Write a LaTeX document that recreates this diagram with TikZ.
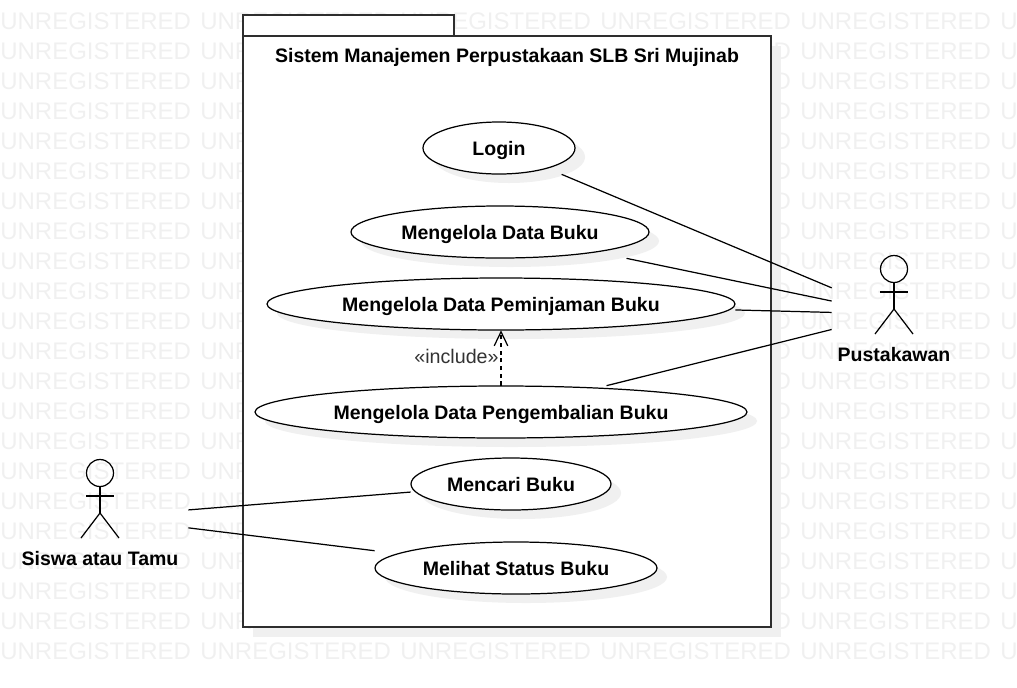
\documentclass[tikz,border=0pt]{standalone}
\usepackage{fontspec}
\setmainfont{Liberation Sans}
\usetikzlibrary{arrows.meta}

\definecolor{wmgray}{HTML}{F0F0F0}
\definecolor{shadowgray}{HTML}{F0F0F0}
\definecolor{framegray}{HTML}{2E2E2E}

\tikzset{
  watermark/.style={anchor=west, inner sep=0pt, text=wmgray, font=\fontsize{13.65}{16}\selectfont},
  label/.style={inner sep=0pt, text height=8pt, text depth=0pt, font=\fontsize{11.1}{13}\selectfont\bfseries},
  line/.style={draw=black, line width=0.7pt},
  usecasebox/.style={label, minimum height=1.04cm},
  actorbox/.style={inner sep=0pt, minimum height=2.44cm}
}

% #1 name, #2 x, #3 y, #4 half width, #5 text
\newcommand{\usecase}[5]{
  \fill[shadowgray] (#2+10,#3+9) ellipse (#4 and 26);
  \draw[line, fill=white] (#2,#3) ellipse (#4 and 26);
  \node[usecasebox, minimum width={2*#4*0.02cm}] (#1) at (#2,#3) {#5};
}

% #1 x of the figure, #2 y of the head
\newcommand{\stickman}[2]{
  \draw[line] (#1,#2) circle (13.5);
  \draw[line] (#1,#2+13.5) -- (#1,#2+40);
  \draw[line] (#1-14,#2+23) -- (#1+14,#2+23);
  \draw[line] (#1-19,#2+65) -- (#1,#2+40) -- (#1+19,#2+65);
}

\begin{document}
\begin{tikzpicture}[x=0.02cm, y=-0.02cm]

\useasboundingbox (0,0) rectangle (1017,687);

\begin{scope}
\clip (0,0) rectangle (1017,687);
\foreach \row in {0,...,21} {
  \foreach \col in {0,...,5} {
    \node[watermark] (wm\row\col) at (\col*200,21.5+\row*30) {UNREGISTERED};
  }
}
\end{scope}

% package
\fill[shadowgray] (253,46) rectangle (781,637);
\draw[draw=framegray, line width=0.85pt, fill=white] (243,15) rectangle (454,36);
\draw[draw=framegray, line width=0.85pt, fill=white] (243,36) rectangle (771,627);
\node[label] (title) at (507,55) {Sistem Manajemen Perpustakaan SLB Sri Mujinab};

% use cases
\usecase{login}{499}{148}{76}{Login}
\usecase{buku}{500}{232}{149}{Mengelola Data Buku}
\usecase{pinjam}{501}{304}{234}{Mengelola Data Peminjaman Buku}
\usecase{kembali}{501}{412}{246}{Mengelola Data Pengembalian Buku}
\usecase{cari}{511}{484}{100}{Mencari Buku}
\usecase{status}{516}{568}{141}{Melihat Status Buku}

% actors
\stickman{894}{269}
\node[label] (pustakawanlabel) at (894,354) {Pustakawan};
\node[actorbox, minimum width=2.48cm] (pustakawan) at (894,314) {};

\stickman{100}{473}
\node[label] (siswalabel) at (100,558) {Siswa atau Tamu};
\node[actorbox, minimum width=3.52cm] (siswa) at (100,517) {};

% connectors
\draw[line] (login) -- (pustakawan);
\draw[line] (buku) -- (pustakawan);
\draw[line] (pinjam) -- (pustakawan);
\draw[line] (kembali) -- (pustakawan);
\draw[line] (siswa) -- (cari);
\draw[line] (siswa) -- (status);

\draw[line, dash pattern=on 2.4pt off 2pt, -{Straight Barb[length=0.28cm, width=0.27cm]}] (kembali) -- node[left, yshift=1pt, inner sep=1pt, text=black!80, font=\fontsize{11.2}{13}\selectfont] {«include»} (pinjam);

\end{tikzpicture}
\end{document}
